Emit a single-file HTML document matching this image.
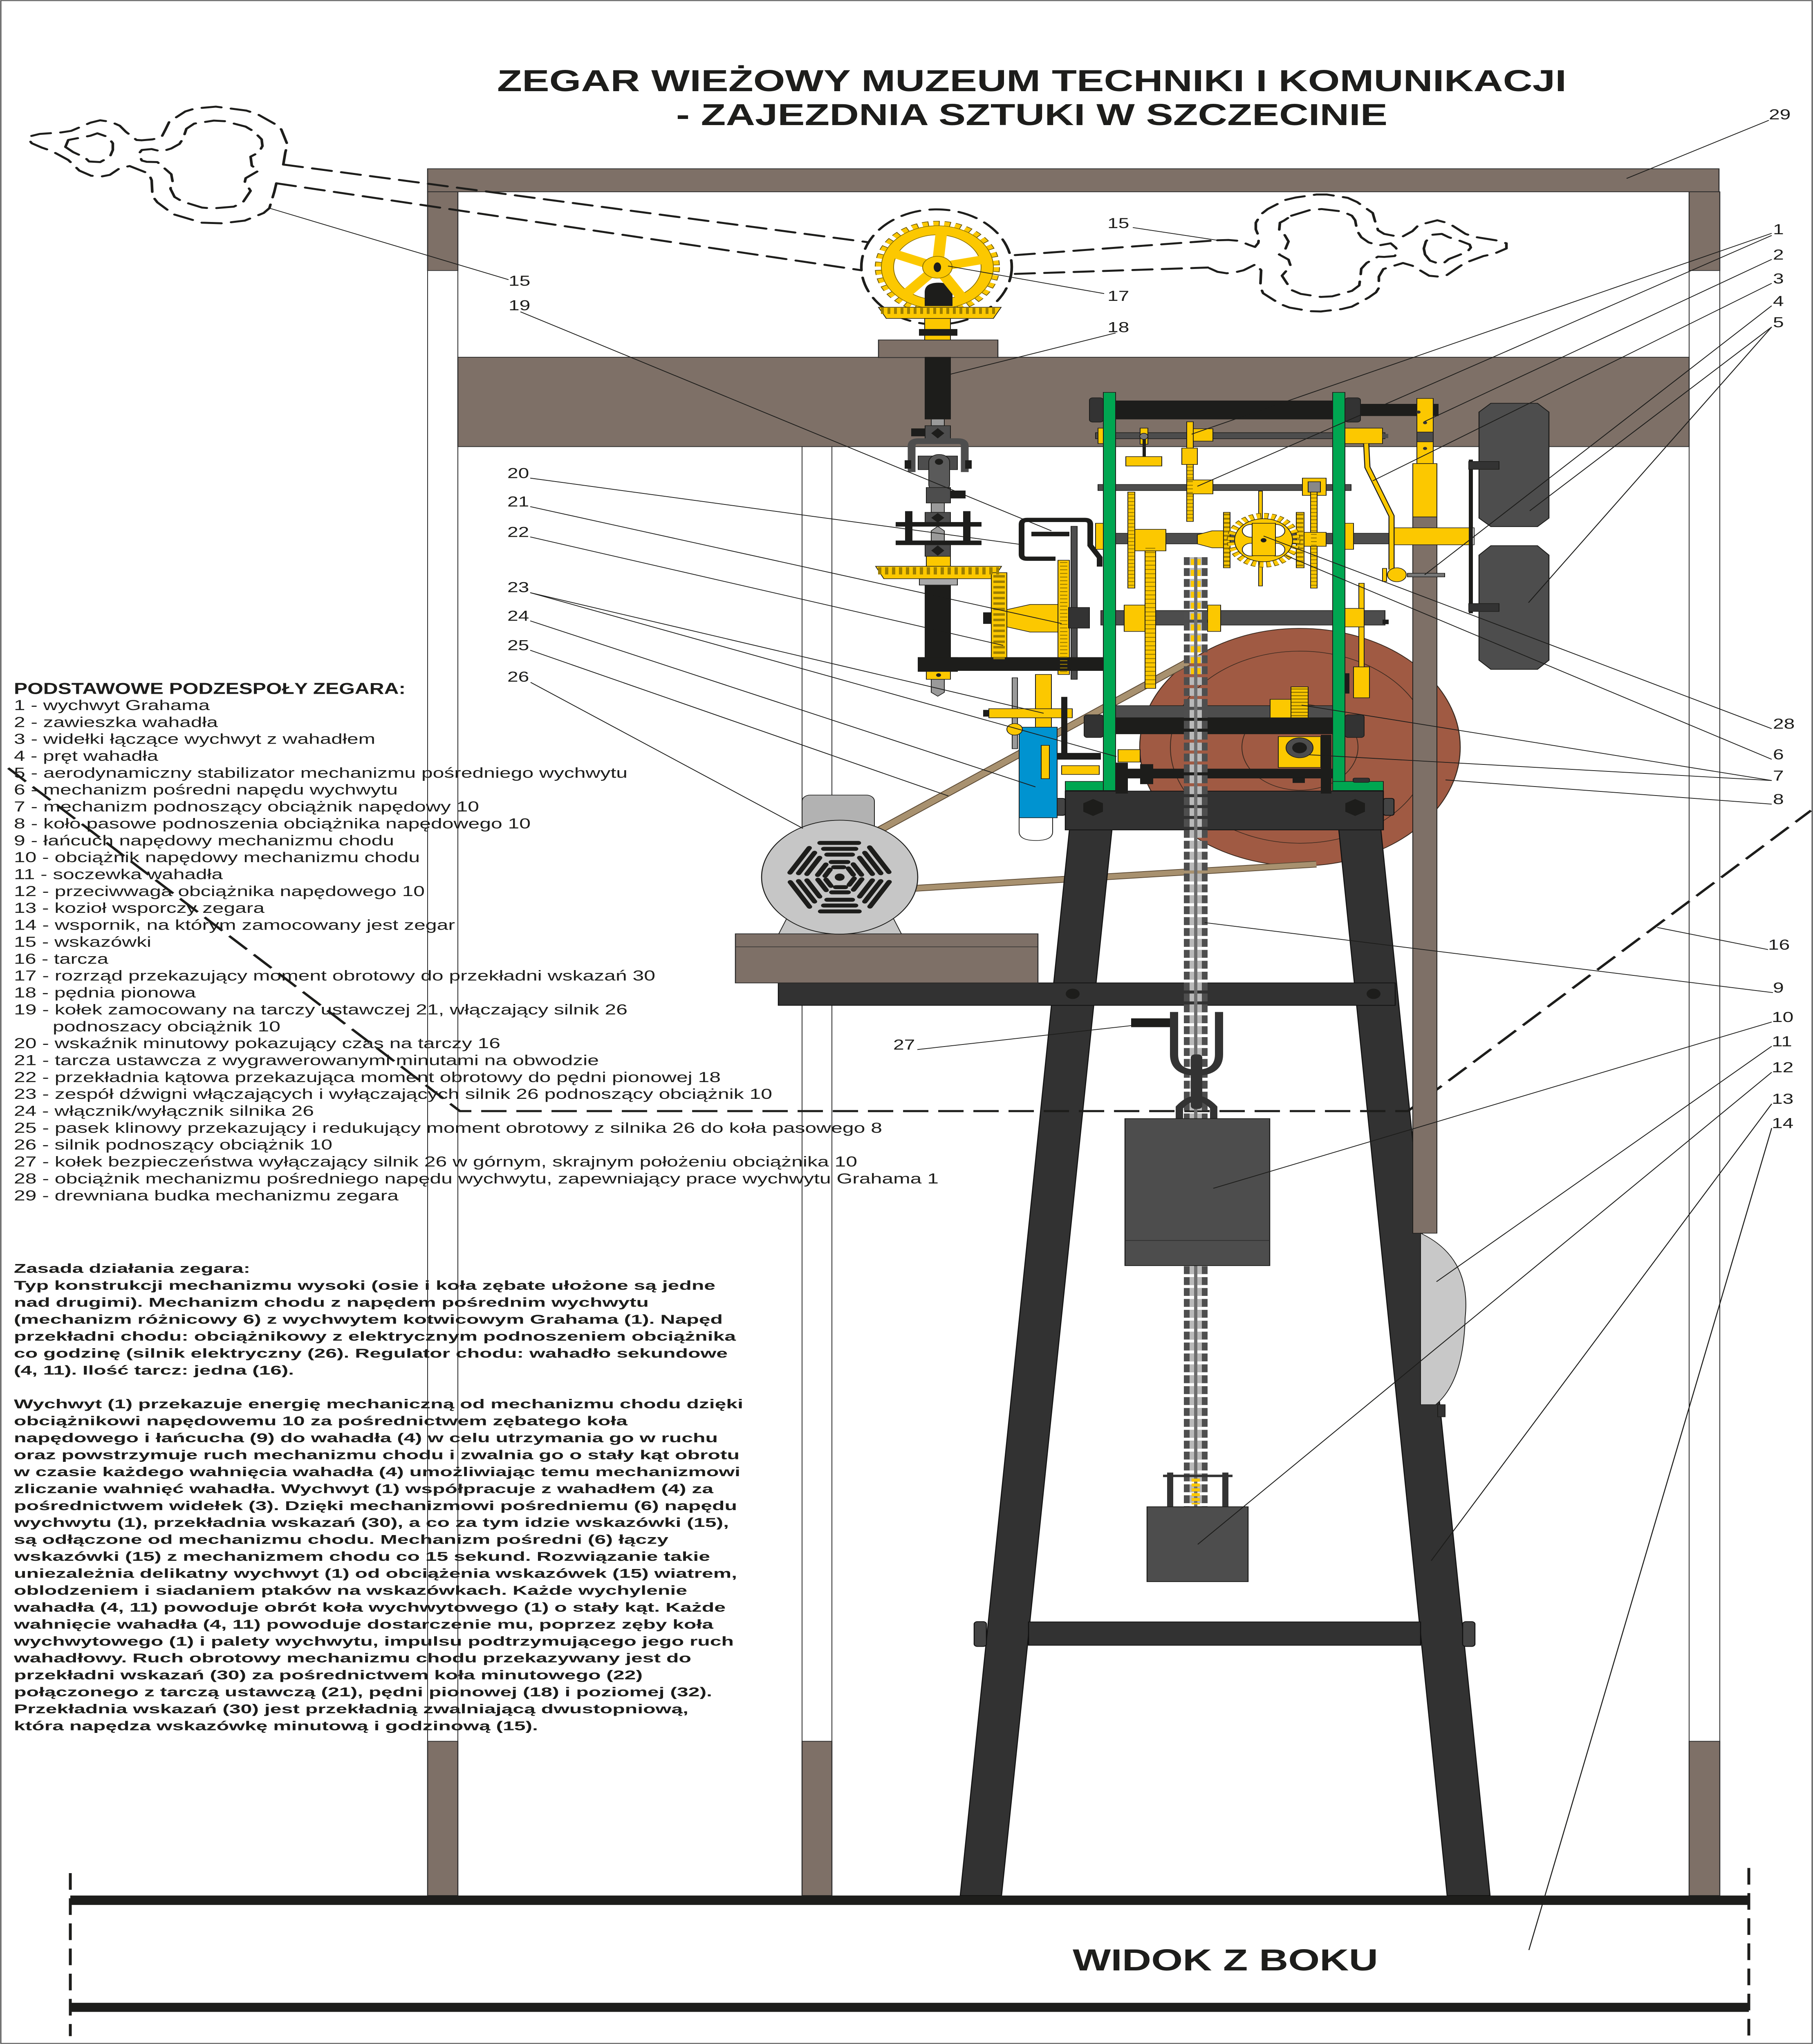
<!DOCTYPE html>
<html><head><meta charset="utf-8"><style>html,body{margin:0;padding:0;background:#fff;width:100vw;height:100vh;overflow:hidden}svg{display:block;position:absolute;left:0;top:0;width:100vw;height:100vh}</style></head><body>
<svg xmlns="http://www.w3.org/2000/svg" viewBox="0 0 4435 6746" preserveAspectRatio="none">
<rect x="0" y="0" width="4435" height="6746" fill="#fff"/>
<rect x="2" y="2" width="4431" height="6742" fill="none" stroke="#555" stroke-width="3"/>

<!-- TITLE -->
<g font-family="'Liberation Sans', Arial, sans-serif" font-weight="bold" fill="#1d1d1b">
<text x="1216" y="301" font-size="100" textLength="2616" lengthAdjust="spacingAndGlyphs">ZEGAR WIEŻOWY MUZEUM TECHNIKI I KOMUNIKACJI</text>
<text x="1654" y="413" font-size="100" textLength="1740" lengthAdjust="spacingAndGlyphs">- ZAJEZDNIA SZTUKI W SZCZECINIE</text>
<text x="2624" y="6503" font-size="100" textLength="747" lengthAdjust="spacingAndGlyphs">WIDOK Z BOKU</text>
</g>

<!-- BOOTH -->
<g stroke="#2b2b2b" stroke-width="2.5">
<rect x="1046" y="557" width="3159" height="76" fill="#7e7067"/>
<rect x="1046" y="633" width="74" height="260" fill="#7e7067"/>
<rect x="4132" y="633" width="75" height="260" fill="#7e7067"/>
<rect x="1046" y="893" width="74" height="4854" fill="#fff" stroke-width="2"/>
<rect x="4132" y="893" width="75" height="4854" fill="#fff" stroke-width="2"/>
<rect x="1962" y="1474" width="73" height="4273" fill="#fff" stroke-width="2"/>
<rect x="1046" y="5747" width="74" height="509" fill="#7e7067"/>
<rect x="1962" y="5747" width="73" height="509" fill="#7e7067"/>
<rect x="4132" y="5747" width="75" height="509" fill="#7e7067"/>
<rect x="1120" y="1179" width="3012" height="295" fill="#7e7067"/>
<rect x="2149" y="1122" width="292" height="58" fill="#7e7067"/>
</g>

<!-- GROUND -->
<rect x="172" y="6256" width="4106" height="31" fill="#1d1d1b"/>
<rect x="172" y="6610" width="4106" height="30" fill="#1d1d1b"/>
<line x1="172" y1="6182" x2="172" y2="6720" stroke="#1d1d1b" stroke-width="7" stroke-dasharray="55 28"/>
<line x1="4278" y1="6165" x2="4278" y2="6740" stroke="#1d1d1b" stroke-width="7" stroke-dasharray="55 28"/>

<!-- HANDS (dashed) -->
<g fill="none" stroke="#1d1d1b" stroke-width="6.5" stroke-dasharray="48 24" stroke-linecap="round" stroke-linejoin="round">
<polyline points="693,543 698,503 703,477 688,427 671,408 630,377 603,365 528,352 477,358 453,368 414,402 405,427 395,453 373,460 347,463 334,462 308,435 293,415 271,402 245,397 221,405 174,432 150,437 97,442 73,450 70,460 78,473 102,487 126,498 167,528 182,547 194,563 223,580 250,582 269,577 293,555 317,548 364,573 371,595 373,647 385,668 424,707 494,735 543,737 599,728 645,703 659,687 671,633 676,605"/>
<polygon points="422,598 419,575 385,535 359,534 347,530 339,508 347,495 371,492 395,500 419,490 439,475 448,457 456,425 475,408 523,398 550,400 601,418 620,433 640,460 642,482 633,503 613,517 616,547 633,563 601,588 599,600 613,630 594,668 572,682 519,688 494,685 446,665 427,650 417,623"/>
<polygon points="160,485 167,462 194,455 221,448 238,440 264,452 276,473 276,495 269,517 245,535 218,533 208,520 179,502"/>
<path d="M693,543 L2121,799"/>
<path d="M676,605 L2107,892"/>
<path d="M2483,842 L2978,793"/>
<path d="M2483,904 L2955,883"/>
<polyline points="2978,793 3005,792 3032,795 3055,808 3070,815 3078,802 3080,783 3072,757 3072,735 3085,707 3101,690 3144,660 3169,652 3220,642 3246,642 3297,653 3320,667 3358,703 3363,727 3371,760 3386,772 3409,778 3432,780 3455,763 3470,743 3516,727 3544,737 3585,772 3608,782 3659,793 3685,803 3685,820 3654,838 3629,845 3583,868 3562,887 3537,910 3519,913 3496,910 3455,877 3432,868 3384,888 3373,913 3373,950 3366,965 3348,982 3307,1012 3282,1020 3231,1028 3205,1027 3154,1015 3131,1003 3090,968 3083,947 3085,892 3072,872 3042,892 3027,897 3001,902 2978,897 2955,883"/>
<polygon points="3159,712 3205,693 3233,690 3284,698 3307,712 3315,727 3320,762 3330,783 3348,800 3373,810 3402,803 3414,817 3419,827 3412,845 3386,848 3371,847 3343,868 3330,887 3328,913 3325,942 3307,960 3259,978 3231,980 3182,970 3159,957 3136,910 3149,890 3157,877 3152,857 3136,845 3129,840 3144,823 3152,797 3141,772 3129,763 3131,735 3141,728"/>
<polygon points="3486,840 3483,820 3488,797 3503,775 3527,772 3544,783 3572,795 3595,807 3598,817 3590,830 3567,843 3544,855 3532,868 3519,870 3498,860"/>
<ellipse cx="2291" cy="881" rx="184" ry="190"/>
</g>

<!-- GEAR 17 -->
<g>
<rect x="2262" y="1051" width="63" height="71" fill="#fcc800" stroke="#1d1d1b" stroke-width="2"/>
<rect x="2248" y="1086" width="94" height="22" fill="#1d1d1b"/>
<circle cx="2293" cy="882" r="140" fill="none" stroke="#6b5600" stroke-width="26" stroke-dasharray="15 11"/>
<circle cx="2293" cy="882" r="140" fill="none" stroke="#fcc800" stroke-width="22" stroke-dasharray="13 13"/>
<circle cx="2293" cy="882" r="122" fill="none" stroke="#fcc800" stroke-width="30"/>
<circle cx="2293" cy="882" r="137" fill="none" stroke="#8a7000" stroke-width="2"/>
<circle cx="2293" cy="882" r="107" fill="none" stroke="#8a7000" stroke-width="2"/>
<path d="M2262,1010 V965 Q2262,933 2296,933 Q2330,933 2330,965 V1010 Z" fill="#1d1d1b"/>
<g stroke="#fcc800" stroke-width="28" stroke-linecap="round">
<line x1="2293" y1="882" x2="2303" y2="765"/>
<line x1="2293" y1="882" x2="2408" y2="856"/>
<line x1="2293" y1="882" x2="2353" y2="982"/>
<line x1="2293" y1="882" x2="2216" y2="970"/>
<line x1="2293" y1="882" x2="2185" y2="836"/>
</g>
<circle cx="2293" cy="882" r="36" fill="#fcc800" stroke="#8a7000" stroke-width="2"/>
<ellipse cx="2293" cy="882" rx="9" ry="16" fill="#1d1d1b"/>
<polygon points="2149,1014 2449,1014 2430,1051 2168,1051" fill="#fcc800" stroke="#1d1d1b" stroke-width="2"/>
<line x1="2155" y1="1026" x2="2443" y2="1026" stroke="#9c7e00" stroke-width="20" stroke-dasharray="7 9"/>
</g>

<!-- LEGEND -->
<g font-family="'Liberation Sans', Arial, sans-serif" fill="#1d1d1b">
<text x="34" y="2290" font-size="53" font-weight="bold" textLength="958" lengthAdjust="spacingAndGlyphs">PODSTAWOWE PODZESPOŁY ZEGARA:</text>
<g font-size="47">
<text x="34" y="2343.5" textLength="479" lengthAdjust="spacingAndGlyphs">1 - wychwyt Grahama</text>
<text x="34" y="2399.3" textLength="499" lengthAdjust="spacingAndGlyphs">2 - zawieszka wahadła</text>
<text x="34" y="2455.1" textLength="884" lengthAdjust="spacingAndGlyphs">3 - widełki łączące wychwyt z wahadłem</text>
<text x="34" y="2510.9" textLength="353" lengthAdjust="spacingAndGlyphs">4 - pręt wahadła</text>
<text x="34" y="2566.7" textLength="1501" lengthAdjust="spacingAndGlyphs">5 - aerodynamiczny stabilizator mechanizmu pośredniego wychwytu</text>
<text x="34" y="2622.5" textLength="939" lengthAdjust="spacingAndGlyphs">6 - mechanizm pośredni napędu wychwytu</text>
<text x="34" y="2678.3" textLength="1138" lengthAdjust="spacingAndGlyphs">7 - mechanizm podnoszący obciążnik napędowy 10</text>
<text x="34" y="2734.1" textLength="1264" lengthAdjust="spacingAndGlyphs">8 - koło pasowe podnoszenia obciążnika napędowego 10</text>
<text x="34" y="2789.9" textLength="930" lengthAdjust="spacingAndGlyphs">9 - łańcuch napędowy mechanizmu chodu</text>
<text x="34" y="2845.7" textLength="993" lengthAdjust="spacingAndGlyphs">10 - obciążnik napędowy mechanizmu chodu</text>
<text x="34" y="2901.5" textLength="511" lengthAdjust="spacingAndGlyphs">11 - soczewka wahadła</text>
<text x="34" y="2957.3" textLength="1005" lengthAdjust="spacingAndGlyphs">12 - przeciwwaga obciążnika napędowego 10</text>
<text x="34" y="3013.1" textLength="613" lengthAdjust="spacingAndGlyphs">13 - kozioł wsporczy zegara</text>
<text x="34" y="3068.9" textLength="1079" lengthAdjust="spacingAndGlyphs">14 - wspornik, na którym zamocowany jest zegar</text>
<text x="34" y="3124.7" textLength="336" lengthAdjust="spacingAndGlyphs">15 - wskazówki</text>
<text x="34" y="3180.5" textLength="231" lengthAdjust="spacingAndGlyphs">16 - tarcza</text>
<text x="34" y="3236.3" textLength="1569" lengthAdjust="spacingAndGlyphs">17 - rozrząd przekazujący moment obrotowy do przekładni wskazań 30</text>
<text x="34" y="3292.1" textLength="445" lengthAdjust="spacingAndGlyphs">18 - pędnia pionowa</text>
<text x="34" y="3347.9" textLength="1501" lengthAdjust="spacingAndGlyphs">19 - kołek zamocowany na tarczy ustawczej 21, włączający silnik 26</text>
<text x="129" y="3403.7" textLength="557" lengthAdjust="spacingAndGlyphs">podnoszacy obciążnik 10</text>
<text x="34" y="3459.5" textLength="1190" lengthAdjust="spacingAndGlyphs">20 - wskaźnik minutowy pokazujący czas na tarczy 16</text>
<text x="34" y="3515.3" textLength="1431" lengthAdjust="spacingAndGlyphs">21 - tarcza ustawcza z wygrawerowanymi minutami na obwodzie</text>
<text x="34" y="3571.1" textLength="1729" lengthAdjust="spacingAndGlyphs">22 - przekładnia kątowa przekazująca moment obrotowy do pędni pionowej 18</text>
<text x="34" y="3626.9" textLength="1855" lengthAdjust="spacingAndGlyphs">23 - zespół dźwigni włączających i wyłączających silnik 26 podnoszący obciążnik 10</text>
<text x="34" y="3682.7" textLength="734" lengthAdjust="spacingAndGlyphs">24 - włącznik/wyłącznik silnika 26</text>
<text x="34" y="3738.5" textLength="2124" lengthAdjust="spacingAndGlyphs">25 - pasek klinowy przekazujący i redukujący moment obrotowy z silnika 26 do koła pasowego 8</text>
<text x="34" y="3794.3" textLength="779" lengthAdjust="spacingAndGlyphs">26 - silnik podnoszący obciążnik 10</text>
<text x="34" y="3850.1" textLength="2063" lengthAdjust="spacingAndGlyphs">27 - kołek bezpieczeństwa wyłączający silnik 26 w górnym, skrajnym położeniu obciążnika 10</text>
<text x="34" y="3905.9" textLength="2262" lengthAdjust="spacingAndGlyphs">28 - obciążnik mechanizmu pośredniego napędu wychwytu, zapewniający prace wychwytu Grahama 1</text>
<text x="34" y="3961.7" textLength="941" lengthAdjust="spacingAndGlyphs">29 - drewniana budka mechanizmu zegara</text>
</g>
<g font-size="42" font-weight="bold">
<text x="34" y="4201" textLength="578" lengthAdjust="spacingAndGlyphs">Zasada działania zegara:</text>
<text x="34" y="4257" textLength="1716" lengthAdjust="spacingAndGlyphs">Typ konstrukcji mechanizmu wysoki (osie i koła zębate ułożone są jedne</text>
<text x="34" y="4312.9" textLength="1553" lengthAdjust="spacingAndGlyphs">nad drugimi). Mechanizm chodu z napędem pośrednim wychwytu</text>
<text x="34" y="4368.8" textLength="1734" lengthAdjust="spacingAndGlyphs">(mechanizm różnicowy 6) z wychwytem kotwicowym Grahama (1). Napęd</text>
<text x="34" y="4424.7" textLength="1766" lengthAdjust="spacingAndGlyphs">przekładni chodu: obciążnikowy z elektrycznym podnoszeniem obciążnika</text>
<text x="34" y="4480.6" textLength="1746" lengthAdjust="spacingAndGlyphs">co godzinę (silnik elektryczny (26). Regulator chodu: wahadło sekundowe</text>
<text x="34" y="4536.5" textLength="685" lengthAdjust="spacingAndGlyphs">(4, 11). Ilość tarcz: jedna (16).</text>
<text x="34" y="4648.3" textLength="1784" lengthAdjust="spacingAndGlyphs">Wychwyt (1) przekazuje energię mechaniczną od mechanizmu chodu dzięki</text>
<text x="34" y="4704.2" textLength="1501" lengthAdjust="spacingAndGlyphs">obciążnikowi napędowemu 10 za pośrednictwem zębatego koła</text>
<text x="34" y="4760.1" textLength="1722" lengthAdjust="spacingAndGlyphs">napędowego i łańcucha (9) do wahadła (4) w celu utrzymania go w ruchu</text>
<text x="34" y="4816" textLength="1775" lengthAdjust="spacingAndGlyphs">oraz powstrzymuje ruch mechanizmu chodu i zwalnia go o stały kąt obrotu</text>
<text x="34" y="4871.9" textLength="1777" lengthAdjust="spacingAndGlyphs">w czasie każdego wahnięcia wahadła (4) umożliwiając temu mechanizmowi</text>
<text x="34" y="4927.8" textLength="1711" lengthAdjust="spacingAndGlyphs">zliczanie wahnięć wahadła. Wychwyt (1) współpracuje z wahadłem (4) za</text>
<text x="34" y="4983.7" textLength="1769" lengthAdjust="spacingAndGlyphs">pośrednictwem widełek (3). Dzięki mechanizmowi pośredniemu (6) napędu</text>
<text x="34" y="5039.6" textLength="1749" lengthAdjust="spacingAndGlyphs">wychwytu (1), przekładnia wskazań (30), a co za tym idzie wskazówki (15),</text>
<text x="34" y="5095.5" textLength="1601" lengthAdjust="spacingAndGlyphs">są odłączone od mechanizmu chodu. Mechanizm pośredni (6) łączy</text>
<text x="34" y="5151.4" textLength="1703" lengthAdjust="spacingAndGlyphs">wskazówki (15) z mechanizmem chodu co 15 sekund. Rozwiązanie takie</text>
<text x="34" y="5207.3" textLength="1769" lengthAdjust="spacingAndGlyphs">uniezależnia delikatny wychwyt (1) od obciążenia wskazówek (15) wiatrem,</text>
<text x="34" y="5263.2" textLength="1647" lengthAdjust="spacingAndGlyphs">oblodzeniem i siadaniem ptaków na wskazówkach. Każde wychylenie</text>
<text x="34" y="5319.1" textLength="1741" lengthAdjust="spacingAndGlyphs">wahadła (4, 11) powoduje obrót koła wychwytowego (1) o stały kąt. Każde</text>
<text x="34" y="5375" textLength="1711" lengthAdjust="spacingAndGlyphs">wahnięcie wahadła (4, 11) powoduje dostarczenie mu, poprzez zęby koła</text>
<text x="34" y="5430.9" textLength="1761" lengthAdjust="spacingAndGlyphs">wychwytowego (1) i palety wychwytu, impulsu podtrzymującego jego ruch</text>
<text x="34" y="5486.8" textLength="1657" lengthAdjust="spacingAndGlyphs">wahadłowy. Ruch obrotowy mechanizmu chodu przekazywany jest do</text>
<text x="34" y="5542.7" textLength="1538" lengthAdjust="spacingAndGlyphs">przekładni wskazań (30) za pośrednictwem koła minutowego (22)</text>
<text x="34" y="5598.6" textLength="1708" lengthAdjust="spacingAndGlyphs">połączonego z tarczą ustawczą (21), pędni pionowej (18) i poziomej (32).</text>
<text x="34" y="5654.5" textLength="1650" lengthAdjust="spacingAndGlyphs">Przekładnia wskazań (30) jest przekładnią zwalniającą dwustopniową,</text>
<text x="34" y="5710.4" textLength="1282" lengthAdjust="spacingAndGlyphs">która napędza wskazówkę minutową i godzinową (15).</text>
</g>
</g>

<!-- PULLEY WHEEL 8 -->
<circle cx="3180" cy="2466" r="392" fill="#a05a43" stroke="#3a2a20" stroke-width="2.5"/>
<circle cx="3180" cy="2466" r="317" fill="none" stroke="#3a2a20" stroke-width="2"/>
<circle cx="3180" cy="2466" r="142" fill="none" stroke="#3a2a20" stroke-width="2"/>

<!-- BELTS 25 -->
<line x1="2140" y1="2748" x2="2905" y2="2186" stroke="#5e4c36" stroke-width="23"/>
<line x1="2140" y1="2748" x2="2905" y2="2186" stroke="#a8916f" stroke-width="18"/>
<line x1="2235" y1="2932" x2="3220" y2="2852" stroke="#5e4c36" stroke-width="22"/>
<line x1="2235" y1="2932" x2="3220" y2="2852" stroke="#a8916f" stroke-width="17"/>

<!-- TRESTLE 13 -->
<g fill="#323232" stroke="#111" stroke-width="2.5">
<polygon points="2616,2739 2720,2739 2450,6256 2349,6256"/>
<polygon points="3275,2739 3378,2739 3645,6256 3540,6256"/>
<rect x="1904" y="3244" width="1509" height="74"/>
<rect x="2516" y="5353" width="959" height="77"/>
<rect x="2383" y="5352" width="30" height="82" rx="8" fill="#444"/>
<rect x="3578" y="5352" width="30" height="82" rx="8" fill="#444"/>
<rect x="2606" y="2611" width="778" height="128"/>
<rect x="2581" y="2635" width="25" height="56" rx="6" fill="#444"/>
<rect x="3384" y="2635" width="26" height="56" rx="6" fill="#444"/>
</g>
<circle cx="2624" cy="3280" r="17" fill="#1d1d1b"/>
<circle cx="3360" cy="3280" r="17" fill="#1d1d1b"/>
<polygon points="2674,2637 2698,2651 2698,2679 2674,2693 2650,2679 2650,2651" fill="#1d1d1b"/>
<polygon points="3315,2637 3339,2651 3339,2679 3315,2693 3291,2679 3291,2651" fill="#1d1d1b"/>

<!-- MOTOR SHELF + MOTOR 26 -->
<rect x="1799" y="3082" width="740" height="162" fill="#7e7067" stroke="#2b2b2b" stroke-width="2.5"/>
<line x1="1799" y1="3125" x2="2539" y2="3125" stroke="#2b2b2b" stroke-width="2"/>
<polygon points="1925,3030 2185,3030 2205,3082 1905,3082" fill="#c6c6c6" stroke="#1d1d1b" stroke-width="2"/>
<rect x="1962" y="2624" width="177" height="140" rx="20" fill="#b2b2b2" stroke="#1d1d1b" stroke-width="2"/>
<ellipse cx="2054" cy="2895" rx="191" ry="188" fill="#c6c6c6" stroke="#1d1d1b" stroke-width="2.5"/>
<g fill="none" stroke="#1d1d1b" stroke-width="13" stroke-linecap="round">
<polygon points="2184,2895 2119,3008 1989,3008 1924,2895 1989,2782 2119,2782" stroke-dasharray="94 36" stroke-dashoffset="112"/>
<polygon points="2162,2895 2108,2988.5 2000,2988.5 1946,2895 2000,2801.5 2108,2801.5" stroke-dasharray="78 30" stroke-dashoffset="93"/>
<polygon points="2140,2895 2097,2969.5 2011,2969.5 1968,2895 2011,2820.5 2097,2820.5" stroke-dasharray="62 24" stroke-dashoffset="74"/>
<polygon points="2112,2895 2083,2945 2025,2945 1996,2895 2025,2845 2083,2845" stroke-dasharray="40 18" stroke-dashoffset="50"/>
<polygon points="2092,2895 2073,2928 2035,2928 2016,2895 2035,2862 2073,2862" stroke-dasharray="24 14" stroke-dashoffset="33"/>
</g>
<circle cx="2054" cy="2895" r="12" fill="#1d1d1b"/>

<!-- DIAL 16 dashed -->
<polyline points="20,2535 1125,3667 3444,3667 4430,2675" fill="none" stroke="#1d1d1b" stroke-width="7" stroke-dasharray="62 24"/>

<!-- UPPER LEFT DRIVE (18, 22) -->
<g stroke="#1d1d1b" stroke-width="2">
<rect x="2263" y="1179" width="62" height="204" fill="#1d1d1b"/>
<rect x="2278" y="1383" width="32" height="22" fill="#9a9a9a"/>
<rect x="2263" y="1405" width="62" height="49" fill="#4d4d4d"/>
<rect x="2230" y="1415" width="33" height="24" fill="#1d1d1b"/>
<path d="M2230,1558 V1472 Q2230,1456 2246,1456 H2344 Q2360,1456 2360,1472 V1558" fill="none" stroke="#4d4d4d" stroke-width="19"/>
<rect x="2246" y="1505" width="96" height="45" fill="#4d4d4d"/>
<rect x="2214" y="1520" width="14" height="26" fill="#1d1d1b"/>
<rect x="2362" y="1520" width="14" height="26" fill="#1d1d1b"/>
<rect x="2272" y="1500" width="51" height="124" rx="25" fill="#5a5a5a"/>
<rect x="2266" y="1609" width="59" height="51" fill="#4d4d4d"/>
<rect x="2325" y="1620" width="36" height="24" fill="#1d1d1b"/>
<rect x="2278" y="1660" width="32" height="31" fill="#9a9a9a"/>
<rect x="2263" y="1691" width="62" height="36" fill="#4d4d4d"/>
<rect x="2192" y="1724" width="208" height="13" fill="#1d1d1b"/>
<rect x="2192" y="1785" width="208" height="13" fill="#1d1d1b"/>
<rect x="2215" y="1688" width="16" height="97" fill="#1d1d1b"/>
<rect x="2357" y="1688" width="16" height="97" fill="#1d1d1b"/>
<path d="M2278,1785 V1752 L2294,1737 L2310,1752 V1785 Z" fill="#9a9a9a"/>
<rect x="2263" y="1798" width="62" height="38" fill="#4d4d4d"/>
<rect x="2266" y="1836" width="59" height="33" fill="#fcc800"/>
<polygon points="2142,1869 2450,1869 2430,1910 2162,1910" fill="#fcc800"/>
<rect x="2249" y="1910" width="93" height="21" fill="#aaa"/>
<rect x="2263" y="1931" width="62" height="239" fill="#1d1d1b"/>
<rect x="2425" y="1890" width="38" height="301" fill="#fcc800"/>
<path d="M2463,2012 L2520,1995 H2616 V2086 H2520 L2463,2069 Z" fill="#fcc800"/>
<rect x="2406" y="2022" width="19" height="36" fill="#1d1d1b"/>
<rect x="2588" y="1849" width="28" height="377" fill="#fcc800"/>
<rect x="2620" y="1737" width="15" height="505" fill="#4d4d4d"/>
<rect x="2614" y="2005" width="51" height="68" fill="#333"/>
<rect x="2246" y="2170" width="453" height="43" fill="#1d1d1b"/>
<rect x="2246" y="2170" width="96" height="46" fill="#1d1d1b"/>
<rect x="2266" y="2216" width="59" height="26" fill="#fcc800"/>
<path d="M2278,2242 H2310 V2285 L2294,2298 L2278,2285 Z" fill="#9a9a9a"/>
</g>
<polygon points="2294,1413 2310,1430 2294,1447 2278,1430" fill="#1d1d1b"/>
<polygon points="2294,1693 2310,1709 2294,1725 2278,1709" fill="#1d1d1b"/>
<polygon points="2294,1800 2310,1817 2294,1834 2278,1817" fill="#1d1d1b"/>
<circle cx="2297" cy="1524" r="10" fill="#1d1d1b"/>
<line x1="2148" y1="1884" x2="2444" y2="1884" stroke="#9c7e00" stroke-width="24" stroke-dasharray="8 9"/>
<line x1="2444" y1="1898" x2="2444" y2="2186" stroke="#9c7e00" stroke-width="28" stroke-dasharray="8 10"/>
<line x1="2602" y1="1855" x2="2602" y2="2222" stroke="#9c7e00" stroke-width="18" stroke-dasharray="3 9"/>
<circle cx="2296" cy="2228" r="6" fill="#1d1d1b"/>
<!-- hook 20 -->
<path d="M2582,1844 H2512 Q2499,1844 2499,1830 V1730 Q2499,1716 2513,1716 H2654 Q2667,1716 2667,1730 V1800 L2690,1840 V1870" fill="none" stroke="#1d1d1b" stroke-width="14"/>
<rect x="2523" y="1755" width="93" height="15" fill="#1d1d1b"/>

<!-- MECHANISM SHAFTS -->
<g stroke="#1d1d1b" stroke-width="2">
<rect x="2680" y="1428" width="708" height="20" fill="#4d4d4d"/>
<rect x="2686" y="1599" width="619" height="20" fill="#4d4d4d"/>
<rect x="2693" y="1760" width="708" height="35" fill="#4d4d4d"/>
<rect x="2693" y="2015" width="695" height="48" fill="#4d4d4d"/>
<rect x="2729" y="2329" width="531" height="40" fill="#4d4d4d"/>
<rect x="2729" y="1323" width="531" height="60" fill="#1d1d1b"/>
<rect x="3328" y="1334" width="190" height="38" fill="#1d1d1b"/>
<rect x="2729" y="2369" width="531" height="53" fill="#1d1d1b"/>
<rect x="2729" y="2538" width="531" height="30" fill="#1d1d1b"/>
</g>

<!-- MECHANISM PARTS (inside frame) -->
<g stroke="#1d1d1b" stroke-width="2" fill="#fcc800">
<rect x="2686" y="1413" width="13" height="51"/>
<rect x="2789" y="1413" width="19" height="53"/>
<rect x="2796" y="1446" width="6" height="76" fill="#1d1d1b"/>
<rect x="2754" y="1507" width="88" height="31"/>
<rect x="2903" y="1392" width="16" height="329"/>
<rect x="2919" y="1415" width="48" height="41"/>
<rect x="2891" y="1479" width="38" height="54"/>
<rect x="2903" y="1584" width="64" height="46"/>
<rect x="3186" y="1578" width="58" height="57"/>
<rect x="3200" y="1590" width="30" height="34" fill="#888"/>
<rect x="2680" y="1727" width="19" height="86"/>
<rect x="2759" y="1624" width="17" height="317"/>
<rect x="2801" y="1803" width="26" height="469"/>
<rect x="2776" y="1747" width="76" height="71"/>
<polygon points="2929,1765 2965,1752 2993,1752 2993,1808 2965,1808 2929,1795"/>
<rect x="3079" y="1621" width="9" height="313"/>
<rect x="2993" y="1691" width="16" height="183"/>
<rect x="3171" y="1691" width="19" height="183"/>
<rect x="3206" y="1624" width="16" height="317"/>
<rect x="3190" y="1757" width="54" height="46"/>
<rect x="2750" y="1997" width="51" height="87"/>
<rect x="2954" y="1997" width="32" height="87"/>
<rect x="3311" y="2201" width="39" height="102"/>
<rect x="3324" y="1925" width="13" height="276"/>
<rect x="3107" y="2308" width="93" height="61"/>
<rect x="3158" y="2267" width="42" height="102"/>
<rect x="3127" y="2431" width="104" height="102"/>
<rect x="2735" y="2474" width="54" height="41"/>
<rect x="2597" y="2527" width="92" height="29"/>
</g>
<line x1="2767" y1="1630" x2="2767" y2="1936" stroke="#9c7e00" stroke-width="15" stroke-dasharray="3 9"/>
<line x1="2814" y1="1808" x2="2814" y2="2268" stroke="#9c7e00" stroke-width="24" stroke-dasharray="3 11"/>
<line x1="2911" y1="1540" x2="2911" y2="1716" stroke="#9c7e00" stroke-width="14" stroke-dasharray="3 9"/>
<line x1="3214" y1="1630" x2="3214" y2="1936" stroke="#9c7e00" stroke-width="14" stroke-dasharray="3 9"/>
<line x1="3179" y1="2272" x2="3179" y2="2366" stroke="#9c7e00" stroke-width="40" stroke-dasharray="4 7"/>
<line x1="3001" y1="1695" x2="3001" y2="1870" stroke="#9c7e00" stroke-width="14" stroke-dasharray="6 8"/>
<line x1="3180" y1="1695" x2="3180" y2="1870" stroke="#9c7e00" stroke-width="16" stroke-dasharray="6 8"/>
<circle cx="2798" cy="1440" r="10" fill="#777" stroke="#1d1d1b" stroke-width="2"/>
<circle cx="3179" cy="2468" r="33" fill="#4d4d4d" stroke="#1d1d1b" stroke-width="2"/>
<circle cx="3179" cy="2468" r="18" fill="#1d1d1b"/>
<!-- escape wheel -->
<circle cx="3091" cy="1783" r="80" fill="none" stroke="#6b5600" stroke-width="20" stroke-dasharray="11 7"/>
<circle cx="3091" cy="1783" r="80" fill="none" stroke="#fcc800" stroke-width="16" stroke-dasharray="9 9"/>
<circle cx="3091" cy="1783" r="71" fill="#fcc800" stroke="#1d1d1b" stroke-width="2"/>
<g fill="#fff" stroke="#1d1d1b" stroke-width="2">
<circle cx="3060" cy="1752" r="21"/><circle cx="3122" cy="1752" r="21"/>
<circle cx="3060" cy="1814" r="21"/><circle cx="3122" cy="1814" r="21"/>
</g>
<rect x="3063" y="1727" width="57" height="107" fill="#fcc800" stroke="#1d1d1b" stroke-width="2"/>
<circle cx="3091" cy="1783" r="7" fill="#1d1d1b"/>
<!-- black parts low -->
<rect x="3231" y="2425" width="26" height="194" fill="#1d1d1b"/>
<rect x="2729" y="2517" width="30" height="102" fill="#1d1d1b"/>
<rect x="2789" y="2522" width="32" height="66" fill="#1d1d1b"/>
<rect x="2517" y="2485" width="176" height="22" fill="#1d1d1b"/>
<rect x="3162" y="2568" width="30" height="16" fill="#1d1d1b"/>

<!-- GREEN FRAME -->
<g fill="#00a651" stroke="#1d1d1b" stroke-width="2">
<path d="M2699,2579 H2729 V2609 H2606 V2579 Z"/>
<rect x="2699" y="1295" width="30" height="1314"/>
<rect x="3260" y="1295" width="30" height="1314"/>
<rect x="3260" y="2579" width="124" height="30"/>
</g>
<g fill="#333" stroke="#1d1d1b" stroke-width="2">
<rect x="2665" y="1313" width="34" height="80" rx="8"/>
<rect x="3290" y="1313" width="38" height="80" rx="8"/>
<rect x="2652" y="2359" width="47" height="75" rx="8"/>
<rect x="3290" y="2359" width="47" height="75" rx="8"/>
<rect x="3310" y="2568" width="40" height="14" rx="4"/>
</g>
<g stroke="#1d1d1b" stroke-width="2" fill="#fcc800">
<rect x="3290" y="1413" width="92" height="51"/>
<rect x="3290" y="1727" width="21" height="86"/>
<rect x="3290" y="2008" width="47" height="61"/>
</g>
<rect x="3382" y="1432" width="14" height="14" fill="#4d4d4d"/>
<rect x="3382" y="2045" width="15" height="15" fill="#1d1d1b"/>
<rect x="3290" y="2222" width="11" height="67" fill="#1d1d1b"/>

<!-- LEFT LEVERS 23 + SWITCH 24 -->
<g stroke="#1d1d1b" stroke-width="2">
<rect x="2476" y="2237" width="13" height="234" fill="#9a9a9a"/>
<rect x="2533" y="2226" width="39" height="291" fill="#fcc800"/>
<rect x="2419" y="2339" width="204" height="30" fill="#fcc800"/>
<rect x="2406" y="2344" width="13" height="20" fill="#1d1d1b"/>
<rect x="2597" y="2301" width="13" height="186" fill="#1d1d1b"/>
<rect x="2493" y="2400" width="93" height="299" fill="#0093d0"/>
<path d="M2493,2699 H2575 V2745 Q2575,2774 2534,2774 Q2493,2774 2493,2745 Z" fill="#fff"/>
<circle cx="2482" cy="2407" r="19" fill="#fcc800"/>
<rect x="2547" y="2460" width="20" height="110" fill="#fcc800"/>
</g>

<!-- PENDULUM -->
<g stroke="#1d1d1b" stroke-width="2">
<rect x="3456" y="1706" width="59" height="2364" fill="#7e7067"/>
<rect x="3466" y="1315" width="40" height="215" fill="#fcc800"/>
<rect x="3466" y="1426" width="40" height="32" fill="#4d4d4d"/>
<rect x="3456" y="1530" width="59" height="176" fill="#fcc800"/>
<rect x="3401" y="1742" width="197" height="56" fill="#fcc800"/>
<rect x="3598" y="1742" width="8" height="56" fill="#fff"/>
<rect x="3443" y="1892" width="91" height="12" fill="#777"/>
<path d="M3517,4636 H3535 V4676 H3517 Z" fill="#333"/>
<path d="M3475,4070 Q3600,4150 3584,4350 Q3580,4560 3512,4636 L3475,4636 Z" fill="#c8c8c8"/>
</g>
<circle cx="3470" cy="1360" r="5" fill="#333"/>
<circle cx="3486" cy="1395" r="5" fill="#333"/>
<circle cx="3486" cy="1480" r="5" fill="#333"/>
<path d="M3342,1464 L3345,1542 L3404,1703 L3404,1880" fill="none" stroke="#1d1d1b" stroke-width="15"/>
<path d="M3342,1464 L3345,1542 L3404,1703 L3404,1880" fill="none" stroke="#fcc800" stroke-width="10"/>
<rect x="3382" y="1876" width="10" height="43" fill="#fcc800" stroke="#1d1d1b" stroke-width="2"/>
<circle cx="3417" cy="1897" r="23" fill="#fcc800" stroke="#1d1d1b" stroke-width="2"/>

<!-- PADS 28 -->
<g fill="#4d4d4d" stroke="#1d1d1b" stroke-width="2.5">
<polygon points="3647,1331 3761,1331 3789,1360 3789,1710 3761,1738 3647,1738 3618,1710 3618,1360"/>
<polygon points="3647,1801 3761,1801 3789,1832 3789,2179 3761,2209 3647,2209 3618,2179 3618,1832"/>
</g>
<rect x="3593" y="1517" width="10" height="507" fill="#1d1d1b"/>
<rect x="3593" y="1523" width="74" height="26" fill="#333" stroke="#1d1d1b" stroke-width="2"/>
<rect x="3593" y="1992" width="74" height="26" fill="#333" stroke="#1d1d1b" stroke-width="2"/>

<!-- CHAIN 9 -->
<line x1="2925" y1="1839" x2="2925" y2="4975" stroke="#4e4e4e" stroke-width="58" stroke-dasharray="26 10"/>
<line x1="2925" y1="1839" x2="2925" y2="4975" stroke="#b9b9b9" stroke-width="30" stroke-dasharray="26 10"/>
<line x1="2925" y1="1845" x2="2925" y2="2228" stroke="#fcc800" stroke-width="24" stroke-dasharray="20 16"/>
<line x1="2925" y1="1839" x2="2925" y2="4975" stroke="#6e6e6e" stroke-width="8"/>

<!-- WEIGHT 10 + 27 -->
<rect x="2767" y="3361" width="103" height="29" fill="#1d1d1b"/>
<path d="M2872,3340 V3480 Q2872,3540 2927,3540 Q2982,3540 2982,3480 V3340" fill="none" stroke="#333" stroke-width="20"/>
<rect x="2913" y="3480" width="28" height="180" rx="10" fill="#333"/>
<path d="M2885,3692 V3655 Q2927,3595 2969,3655 V3692" fill="none" stroke="#333" stroke-width="18"/>
<rect x="2752" y="3692" width="354" height="485" fill="#4d4d4d" stroke="#1d1d1b" stroke-width="2.5"/>
<line x1="2752" y1="4094" x2="3106" y2="4094" stroke="#2b2b2b" stroke-width="2"/>
<!-- COUNTERWEIGHT 12 -->
<rect x="2855" y="4860" width="15" height="113" fill="#333"/>
<rect x="2990" y="4860" width="15" height="113" fill="#333"/>
<rect x="2845" y="4867" width="170" height="8" fill="#333"/>
<line x1="2925" y1="4880" x2="2925" y2="4965" stroke="#fcc800" stroke-width="20" stroke-dasharray="10 6"/>
<rect x="2806" y="4973" width="247" height="247" fill="#4d4d4d" stroke="#1d1d1b" stroke-width="2.5"/>

<!-- LEADER LINES -->
<g stroke="#1d1d1b" stroke-width="2.5" fill="none">
<line x1="4327" y1="397" x2="3979" y2="589"/>
<line x1="1244" y1="923" x2="659" y2="687"/>
<line x1="2771" y1="751" x2="2978" y2="793"/>
<line x1="2701" y1="969" x2="2319" y2="878"/>
<line x1="2729" y1="1099" x2="2325" y2="1235"/>
<line x1="1273" y1="1029" x2="2572" y2="1752"/>
<line x1="4334" y1="770" x2="2915" y2="1433"/>
<line x1="4334" y1="777" x2="2929" y2="1605"/>
<line x1="4334" y1="856" x2="3485" y2="1391"/>
<line x1="4334" y1="935" x2="3358" y2="1587"/>
<line x1="4334" y1="1009" x2="3485" y2="1897"/>
<line x1="4334" y1="1079" x2="3742" y2="1686"/>
<line x1="4334" y1="1079" x2="3739" y2="1989"/>
<line x1="4334" y1="2405" x2="3091" y2="1769"/>
<line x1="4334" y1="2506" x2="3145" y2="1833"/>
<line x1="4334" y1="2576" x2="3184" y2="2327"/>
<line x1="4334" y1="2576" x2="3203" y2="2491"/>
<line x1="4334" y1="2654" x2="3536" y2="2574"/>
<line x1="4325" y1="3134" x2="4054" y2="3061"/>
<line x1="4337" y1="3276" x2="2947" y2="3045"/>
<line x1="4334" y1="3373" x2="2968" y2="3922"/>
<line x1="4334" y1="3453" x2="3514" y2="4230"/>
<line x1="4334" y1="3539" x2="2930" y2="5097"/>
<line x1="4334" y1="3643" x2="3501" y2="5151"/>
<line x1="4334" y1="3723" x2="3740" y2="6436"/>
<line x1="2244" y1="3464" x2="2767" y2="3385"/>
<line x1="1297" y1="1578" x2="2497" y2="1797"/>
<line x1="1297" y1="1672" x2="2597" y2="2058"/>
<line x1="1297" y1="1772" x2="2454" y2="2130"/>
<line x1="1297" y1="1956" x2="2553" y2="2354"/>
<line x1="1297" y1="1956" x2="2731" y2="2497"/>
<line x1="1297" y1="2049" x2="2533" y2="2597"/>
<line x1="1297" y1="2146" x2="2320" y2="2627"/>
<line x1="1298" y1="2252" x2="1964" y2="2734"/>
</g>

<!-- LABELS -->
<g font-family="'Liberation Sans', Arial, sans-serif" font-size="48" fill="#1d1d1b">
<text x="4327" y="394">29</text>
<text x="4337" y="773">1</text>
<text x="4337" y="857">2</text>
<text x="4337" y="936">3</text>
<text x="4337" y="1010">4</text>
<text x="4337" y="1080">5</text>
<text x="4337" y="2405">28</text>
<text x="4337" y="2506">6</text>
<text x="4337" y="2576">7</text>
<text x="4337" y="2654">8</text>
<text x="4325" y="3134">16</text>
<text x="4337" y="3276">9</text>
<text x="4334" y="3373">10</text>
<text x="4334" y="3453">11</text>
<text x="4334" y="3539">12</text>
<text x="4334" y="3643">13</text>
<text x="4334" y="3723">14</text>
<text x="1244" y="943">15</text>
<text x="1244" y="1024">19</text>
<text x="2709" y="753">15</text>
<text x="2709" y="993">17</text>
<text x="2709" y="1096">18</text>
<text x="1241" y="1578">20</text>
<text x="1241" y="1672">21</text>
<text x="1241" y="1772">22</text>
<text x="1241" y="1954">23</text>
<text x="1241" y="2049">24</text>
<text x="1241" y="2146">25</text>
<text x="1241" y="2250">26</text>
<text x="2185" y="3464">27</text>
</g>
</svg>
</body></html>
